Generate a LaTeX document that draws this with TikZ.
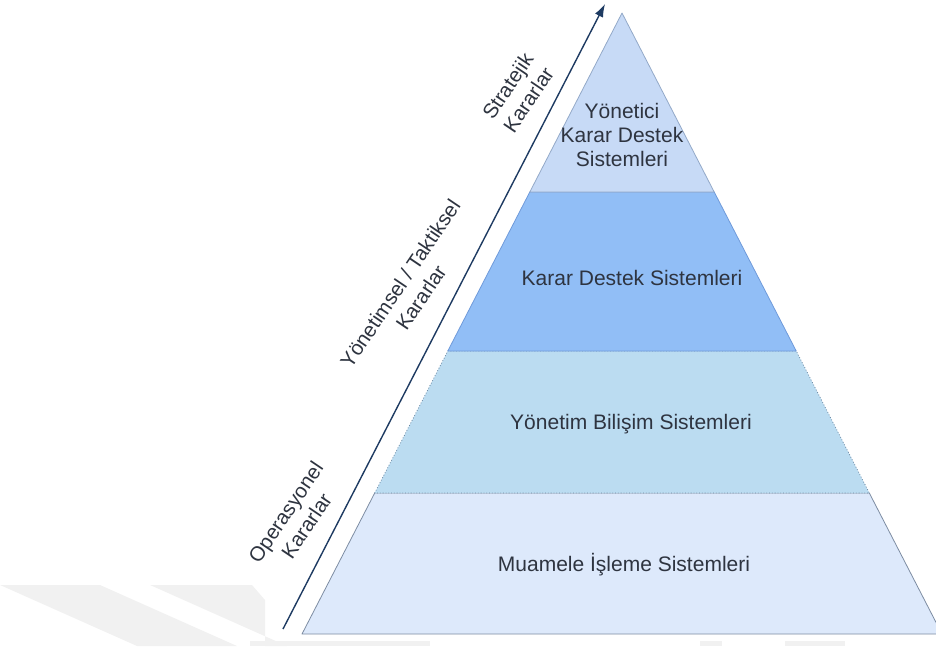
\documentclass[tikz,border=0pt]{standalone}
\usepackage{fontspec}
\setmainfont{Liberation Sans}
\usetikzlibrary{arrows.meta}
\definecolor{bandA}{HTML}{C7DAF6}
\definecolor{bandB}{HTML}{91BEF6}
\definecolor{bandC}{HTML}{BBDCF1}
\definecolor{bandD}{HTML}{DDE9FB}
\definecolor{edgeA}{HTML}{93A9C8}
\definecolor{edgeB}{HTML}{6F9ADA}
\definecolor{edgeC}{HTML}{6A86A0}
\definecolor{edgeD}{HTML}{7D8CA2}
\definecolor{arrowcol}{HTML}{1E3B62}
\definecolor{txt}{HTML}{2E3440}
\definecolor{wm}{HTML}{F1F1F1}
\tikzset{
  band/.style={line width=0.8pt, line join=round},
  bandtext/.style={font=\fontsize{21}{24}\selectfont, text=txt, align=center, inner sep=0pt},
  sidetext/.style={font=\fontsize{20.5}{25}\selectfont, text=txt, align=center, inner sep=0pt, rotate=56},
  levelarrow/.style={draw=arrowcol, line width=1.4pt, -{Latex[length=13pt,width=9pt]}},
}
\begin{document}
\begin{tikzpicture}[x=1pt,y=-1pt]
\useasboundingbox (0,0) rectangle (936,646);
\clip (0,0) rectangle (936,646);
% faint background stripes
\fill[wm] (0,585) -- (100,585) -- (237,646) -- (137,646) -- cycle;
\fill[wm] (150,585) -- (252,585) -- (265,600) -- (265,646) -- (287,646) -- cycle;
\fill[wm] (250,641) rectangle (430,646);
\fill[wm] (700,641) rectangle (722,646);
\fill[wm] (785,641) rectangle (845,646);
% pyramid bands, bottom to top
\filldraw[band, fill=bandD, draw=edgeD] (302,634) -- (374.7,493) -- (869.3,493) -- (942,634) -- cycle;
\filldraw[band, fill=bandC, draw=edgeC, dotted] (374.7,493) -- (447.8,351) -- (796.2,351) -- (869.3,493) -- cycle;
\filldraw[band, fill=bandB, draw=edgeB] (447.8,351) -- (529.8,192) -- (714.2,192) -- (796.2,351) -- cycle;
\filldraw[band, fill=bandA, draw=edgeA] (529.8,192) -- (622,13) -- (714.2,192) -- cycle;
% band titles
\node[bandtext] (n4) at (624,565) {Muamele İşleme Sistemleri};
\node[bandtext] (n3) at (631,424) {Yönetim Bilişim Sistemleri};
\node[bandtext] (n2) at (632,278) {Karar Destek Sistemleri};
\node[bandtext] (n1) at (622,135) {Yönetici\\Karar Destek\\Sistemleri};
% decision level arrow and its labels
\coordinate (a0) at (283,629);
\coordinate (a1) at (605,4);
\draw[levelarrow] (a0) -- (a1);
\node[sidetext] (l3) at (296,519) {Operasyonel\\Kararlar};
\node[sidetext] (l2) at (410.5,290.5) {Yönetimsel / Taktiksel\\Kararlar};
\node[sidetext] (l1) at (518,93) {Stratejik\\Kararlar};
\end{tikzpicture}
\end{document}
